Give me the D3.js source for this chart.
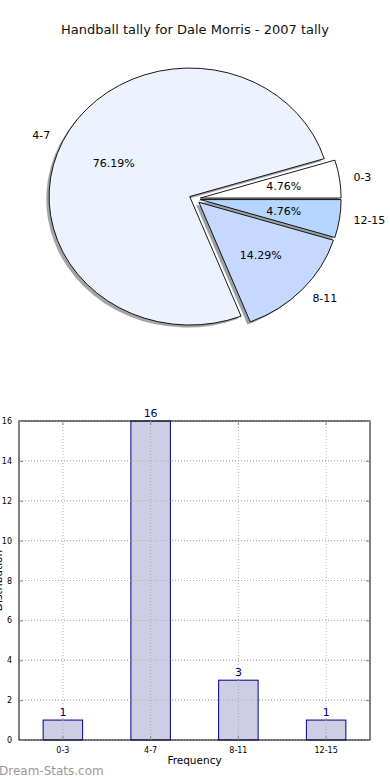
<!DOCTYPE html>
<html><head><meta charset="utf-8">
<script src="https://cdn.jsdelivr.net/npm/d3@7"></script>
<style>body{margin:0;background:#fff}svg{display:block}text{font-family:"DejaVu Sans",sans-serif}</style>
</head><body>
<svg id="c" width="390" height="780"></svg>
<script>
const categories = ["0-3","4-7","8-11","12-15"];
const counts = [1,16,3,1];
const pieColors = ["#ffffff","#ecf2fe","#c5d9fe","#b4d5fe"];
const yTicks = [0,2,4,6,8,10,12,14,16];
const title = "Handball tally for Dale Morris - 2007 tally";

const svg = d3.select("#c");
svg.append("text").attr("x",195).attr("y",34).attr("text-anchor","middle")
  .attr("font-size",13).attr("fill","#111").text(title);

// ---- PIE ----
const cx = 194.8, cy = 198.8, rx = 140.7, ry = 128.5, explode = 0.04;
const total = d3.sum(counts);
const pie = d3.pie().sort(null).value(d=>d).startAngle(0).endAngle(2*Math.PI);
const arcs = pie(counts).map((a,i)=>{
  const t1 = a.startAngle, t2 = a.endAngle;
  return {i, t1, t2, mid:(t1+t2)/2, v:counts[i]};
});
const unitArc = d3.arc().innerRadius(0).outerRadius(1);
function wedgePath(a){
  return unitArc({startAngle: Math.PI/2 - a.t2, endAngle: Math.PI/2 - a.t1});
}
const gPie = svg.append("g");
function centerOf(a){
  return [cx + explode*rx*Math.cos(a.mid), cy - explode*ry*Math.sin(a.mid)];
}
arcs.forEach(a=>{
  const [x,y] = centerOf(a);
  const c = d3.rgb(pieColors[a.i]);
  gPie.append("path").attr("d",wedgePath(a))
    .attr("transform",`translate(${x-0.02*rx},${y+0.02*ry}) scale(${rx},${ry})`)
    .attr("fill",d3.rgb(c.r*0.3,c.g*0.3,c.b*0.3)).attr("fill-opacity",0.5).attr("stroke","none");
});
arcs.forEach(a=>{
  const [x,y] = centerOf(a);
  gPie.append("path").attr("d",wedgePath(a))
    .attr("transform",`translate(${x},${y}) scale(${rx},${ry})`)
    .attr("fill",pieColors[a.i]).attr("stroke","#000").attr("stroke-width",0.9)
    .attr("vector-effect","non-scaling-stroke").attr("stroke-linejoin","miter");
});
arcs.forEach(a=>{
  const [x,y] = centerOf(a);
  const lx = x + 1.1*rx*Math.cos(a.mid), ly = y - 1.1*ry*Math.sin(a.mid);
  gPie.append("text").attr("x",lx).attr("y",ly).attr("dy","0.35em")
    .attr("text-anchor", Math.cos(a.mid)>0?"start":"end").attr("font-size",11).attr("fill","#000")
    .text(categories[a.i]);
  const px = x + 0.6*rx*Math.cos(a.mid), py = y - 0.6*ry*Math.sin(a.mid);
  gPie.append("text").attr("x",px).attr("y",py).attr("dy","0.35em")
    .attr("text-anchor","middle").attr("font-size",11).attr("fill","#000")
    .text((a.v/total*100).toFixed(2)+"%");
});

// ---- BAR ----
const L=19, R=370, T=421, B=740;
const x = d3.scaleBand().domain(categories).range([L,R]).paddingInner(0.55).paddingOuter(0.275);
const y = d3.scaleLinear().domain([0,16]).range([B,T]);
const g = svg.append("g");
g.selectAll(".gy").data(yTicks).join("line")
  .attr("x1",L).attr("x2",R).attr("y1",d=>y(d)).attr("y2",d=>y(d))
  .attr("stroke","#b0b0b0").attr("stroke-dasharray","1,2").attr("stroke-width",1);
g.selectAll(".gx").data(categories).join("line")
  .attr("x1",d=>x(d)+x.bandwidth()/2).attr("x2",d=>x(d)+x.bandwidth()/2).attr("y1",T).attr("y2",B)
  .attr("stroke","#b0b0b0").attr("stroke-dasharray","1,2").attr("stroke-width",1);
g.selectAll(".bar").data(counts).join("rect")
  .attr("x",(d,i)=>x(categories[i])).attr("width",x.bandwidth())
  .attr("y",d=>y(d)).attr("height",d=>B-y(d))
  .attr("fill","#cdcde5")
  .attr("stroke","#000080").attr("stroke-width",1);
g.selectAll(".gx2").data(categories).join("line")
  .attr("x1",d=>x(d)+x.bandwidth()/2).attr("x2",d=>x(d)+x.bandwidth()/2).attr("y1",d=>y(counts[categories.indexOf(d)])).attr("y2",B)
  .attr("stroke","#a8a8b8").attr("stroke-dasharray","1,2").attr("stroke-width",1);
g.selectAll(".gy2").data(yTicks).join("line")
  .attr("x1",L).attr("x2",R).attr("y1",d=>y(d)).attr("y2",d=>y(d))
  .attr("stroke","#b0b0b0").attr("stroke-dasharray","1,2").attr("stroke-width",1);
g.selectAll(".bl").data(counts).join("text")
  .attr("x",(d,i)=>x(categories[i])+x.bandwidth()/2).attr("y",d=>y(d)-4)
  .attr("text-anchor","middle").attr("font-size",11).attr("fill","#000080").text(d=>d);
g.append("rect").attr("x",L).attr("y",T).attr("width",R-L).attr("height",B-T)
  .attr("fill","none").attr("stroke","#000").attr("stroke-width",1);
const yAx = svg.append("g").attr("transform",`translate(${L},0)`)
  .call(d3.axisLeft(y).tickValues(yTicks).tickSize(-4).tickPadding(7).tickFormat(d3.format("d")));
const yAxR = svg.append("g").attr("transform",`translate(${R},0)`)
  .call(d3.axisRight(y).tickValues(yTicks).tickSize(-4).tickFormat(""));
const xAx = svg.append("g").attr("transform",`translate(0,${B})`)
  .call(d3.axisBottom(x).tickSize(-4).tickPadding(7));
const xAxT = svg.append("g").attr("transform",`translate(0,${T})`)
  .call(d3.axisTop(x).tickSize(-4).tickFormat(""));
[yAx,yAxR,xAx,xAxT].forEach(a=>{
  a.select(".domain").remove();
  a.selectAll(".tick line").attr("stroke","#888");
  a.selectAll("text").attr("font-family","'DejaVu Sans Condensed','DejaVu Sans',sans-serif").attr("font-size",8).attr("fill","#000");
});
xAx.selectAll("text").attr("dy","0.71em");
svg.append("text").attr("x",194.5).attr("y",764).attr("text-anchor","middle")
  .attr("font-size",10.5).attr("fill","#000").text("Frequency");
svg.append("text").attr("transform",`translate(1.5,580.5) rotate(-90)`).attr("text-anchor","middle")
  .attr("font-size",10.5).attr("fill","#000").text("Distribution");
svg.append("text").attr("x",-1).attr("y",775).attr("font-size",12)
  .attr("fill","#999").text("Dream-Stats.com");
</script>
</body></html>
